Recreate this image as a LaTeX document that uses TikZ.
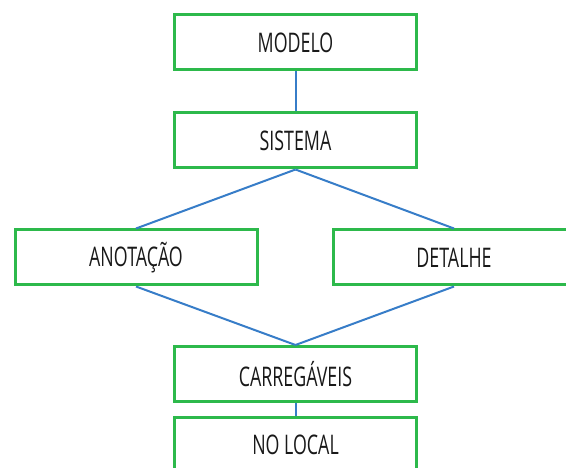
\documentclass[tikz,border=0pt]{standalone}
\usepackage{fontspec}
\setmainfont{Open Sans}[FakeStretch=0.66]
\definecolor{boxgreen}{RGB}{45,185,75}
\definecolor{lineblue}{RGB}{55,125,200}
\begin{document}
\begin{tikzpicture}[x=1pt,y=-1pt,
  box/.style={draw=boxgreen,line width=3pt,fill=white,minimum width=242pt,minimum height=55pt,inner sep=0pt,font=\fontsize{27}{27}\selectfont,text=black!90},
  link/.style={draw=lineblue,line width=2pt}]
\useasboundingbox (0,0) rectangle (566,468);
\clip (0,0) rectangle (566,468);
\node[box] (modelo) at (295.5,42.5) {MODELO};
\node[box] (sistema) at (295.5,140.5) {SISTEMA};
\node[box] (anot) at (136,257.5) {ANOTAÇÃO};
\node[box] (detalhe) at (454,257.5) {DETALHE};
\node[box] (carr) at (295.5,374) {CARREGÁVEIS};
\node[box] (local) at (295.5,445) {NO LOCAL};
\draw[link] (modelo.south) -- (sistema.north);
\draw[link] (sistema.south) -- (anot.north);
\draw[link] (sistema.south) -- (detalhe.north);
\draw[link] (anot.south) -- (carr.north);
\draw[link] (detalhe.south) -- (carr.north);
\draw[link] (carr.south) -- (local.north);
\end{tikzpicture}
\end{document}
